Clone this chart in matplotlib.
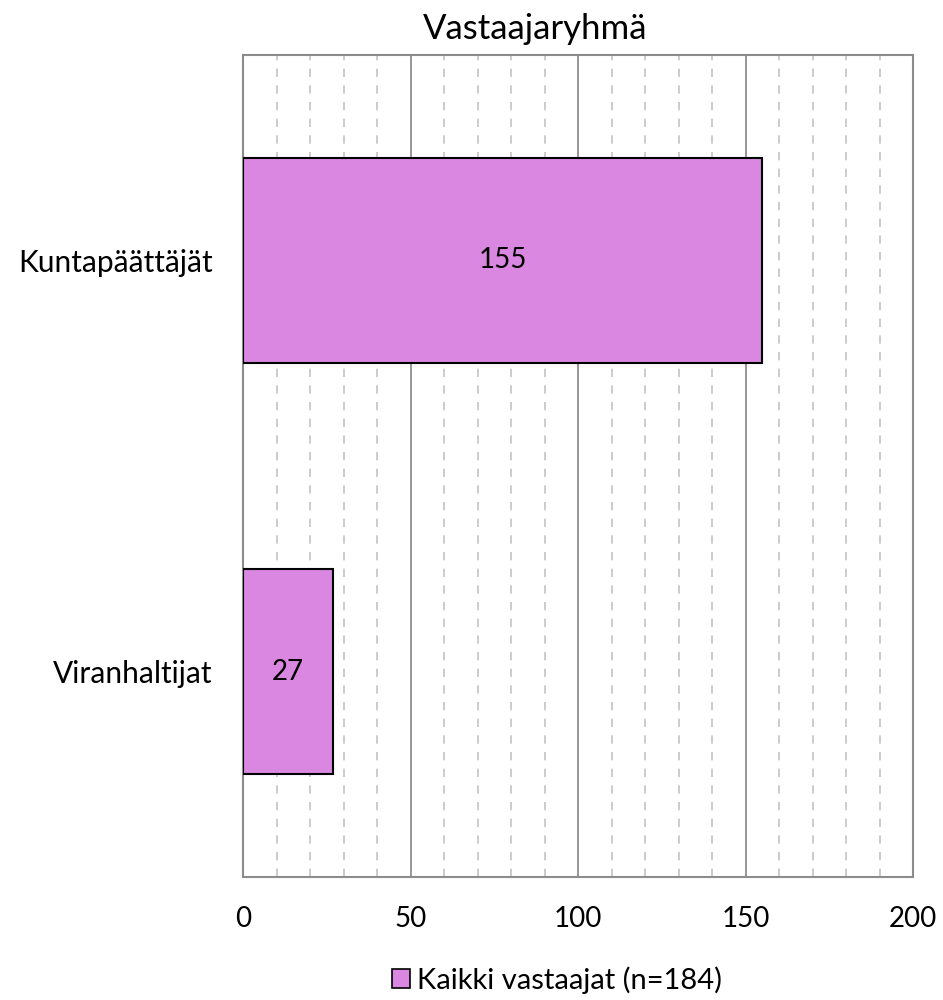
import matplotlib.pyplot as plt
from matplotlib.ticker import MultipleLocator
import matplotlib.patches as mpatches

categories = ["Kuntapäättäjät", "Viranhaltijat"]
values = [155, 27]
series_label = "Kaikki vastaajat (n=184)"
title = "Vastaajaryhmä"

BAR_COLOR = "#D987E0"
FONT = "Lato"

plt.rcParams["font.family"] = [FONT, "DejaVu Sans"]

fig = plt.figure(figsize=(9.43, 10), dpi=100)
ax = fig.add_axes([0.2577, 0.123, 0.7105, 0.822])

ypos = list(range(len(categories)))
ax.barh(ypos, values, height=0.5, color=BAR_COLOR, edgecolor="black",
        linewidth=1.5, zorder=3)
for y, v in zip(ypos, values):
    ax.text(v / 2, y, str(v), ha="center", va="center", fontsize=20, zorder=4)

ax.set_xlim(0, 200)
ax.set_ylim(1.5, -0.5)
ax.set_yticks(ypos)
ax.set_yticklabels(categories, fontsize=21.5)
ax.xaxis.set_major_locator(MultipleLocator(50))
ax.xaxis.set_minor_locator(MultipleLocator(10))
ax.tick_params(axis="both", which="both", length=0)
ax.tick_params(axis="x", pad=21, labelsize=20)
ax.tick_params(axis="y", pad=22)

ax.grid(axis="x", which="major", color="#858585", linewidth=1.2, zorder=1)
ax.grid(axis="x", which="minor", color="#C4C4C4", linewidth=1.2,
        linestyle=(0, (5, 5)), zorder=1)
ax.set_axisbelow(True)
for s in ax.spines.values():
    s.set_color("#8C8C8C")
    s.set_linewidth(1.5)

fig.text(0.567, 0.961, title, ha="center", va="baseline", fontsize=25)

handle = mpatches.Patch(facecolor=BAR_COLOR, edgecolor="black", linewidth=1.2,
                        label=series_label)
fig.legend(handles=[handle], loc="center", bbox_to_anchor=(0.591, 0.02),
           frameon=False, fontsize=21, handlelength=0.62, handleheight=0.62,
           handletextpad=0.24, borderpad=0.2)

fig.savefig("out.png", dpi=100, facecolor="white")
